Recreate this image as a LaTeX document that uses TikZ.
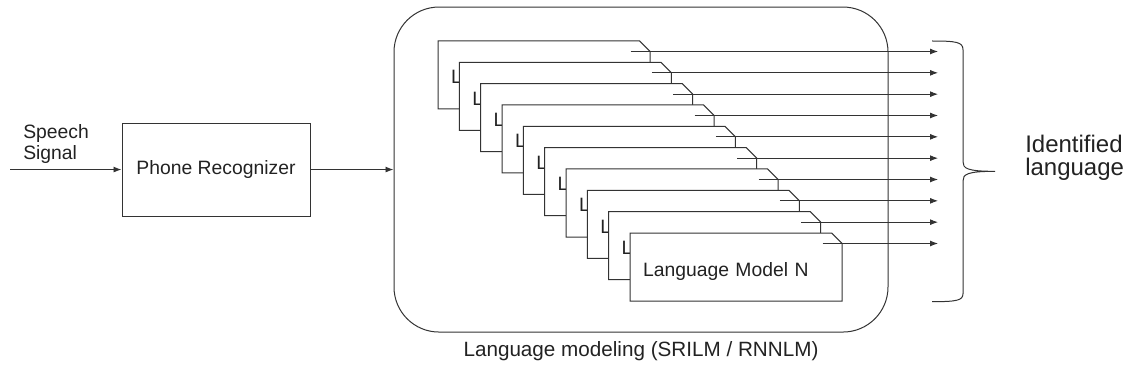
\documentclass[tikz,border=0pt]{standalone}
\usepackage{fontspec}
\setmainfont{Liberation Sans}
\usetikzlibrary{positioning,calc,arrows.meta,shapes.misc}
\definecolor{linegray}{RGB}{51,51,51}
\definecolor{textgray}{RGB}{34,34,34}
\tikzset{
  arrow/.style={-{Latex[length=6pt,width=4.5pt]}, draw=linegray, line width=0.7pt},
  box/.style={rectangle, draw=linegray, line width=0.75pt, text=textgray, font=\fontsize{14.5}{17}\selectfont},
  card/.style={chamfered rectangle, chamfered rectangle corners=north east,
    chamfered rectangle xsep=3.9pt, chamfered rectangle ysep=3.9pt,
    draw=linegray, fill=white, line width=0.75pt, text=textgray,
    minimum width=159pt, minimum height=51pt, text width=139.5pt, align=left,
    inner xsep=5.85pt, inner ysep=0pt, text height=13.5pt, text depth=0pt,
    font=\fontsize{14.5}{17}\selectfont},
  caption/.style={inner sep=0pt, text=textgray}
}
\begin{document}
\begin{tikzpicture}
\useasboundingbox (0,0) rectangle (849pt,284.25pt);

% input and phone recognizer
\node[caption, anchor=west, align=left, font=\fontsize{14.5}{15.75}\selectfont] (speech) at (17.25pt,175.9pt) {Speech\\Signal};
\coordinate (sig) at (7.5pt,157.1pt);
\node[box, minimum width=141pt, minimum height=69.75pt] (pr) at (162pt,157.1pt) {Phone Recognizer};

% language modeling block
\node[draw=linegray, line width=0.75pt, rounded corners=33.75pt, minimum width=370.5pt, minimum height=243.75pt] (lm) at (480.75pt,157.1pt) {};
\node[caption, below=6.5pt of lm, font=\fontsize{15.5}{18}\selectfont] (lmcap) {Language modeling (SRILM / RNNLM)};

\draw[arrow] (sig) -- (pr.west);
\draw[arrow] (pr.east) -- (lm.west);

% stacked language models
\node[card] (c1) at (408pt,228pt) {L};
\node[card] (c2) at ([shift={(16pt,-16pt)}]c1) {L};
\node[card] (c3) at ([shift={(16pt,-16pt)}]c2) {L};
\node[card] (c4) at ([shift={(16pt,-16pt)}]c3) {L};
\node[card] (c5) at ([shift={(16pt,-16pt)}]c4) {L};
\node[card] (c6) at ([shift={(16pt,-16pt)}]c5) {L};
\node[card] (c7) at ([shift={(16pt,-16pt)}]c6) {L};
\node[card] (c8) at ([shift={(16pt,-16pt)}]c7) {L};
\node[card] (c9) at ([shift={(16pt,-16pt)}]c8) {L};
\node[card] (c10) at ([shift={(16pt,-16pt)}]c9) {Language Model N};

% scores
\coordinate (out) at (703.5pt,0pt);
\foreach \i in {1,...,10} {
  \coordinate (s\i) at ($(c\i.north -| c\i.east)+(-15pt,-8.25pt)$);
  \draw[arrow] (s\i) -- (s\i -| out);
}

% brace and decision
\draw[linegray, line width=0.75pt] (699pt,253.5pt) .. controls (717pt,253.5pt) and (722.25pt,252.75pt) .. (722.25pt,247pt)
  -- (722.25pt,163pt) .. controls (722.25pt,158pt) and (725pt,155.75pt) .. (746.25pt,155.75pt)
  .. controls (725pt,155.75pt) and (722.25pt,153.5pt) .. (722.25pt,148.5pt)
  -- (722.25pt,64pt) .. controls (722.25pt,58.75pt) and (717pt,58pt) .. (699pt,58pt);
\node[caption, anchor=west, align=left, font=\fontsize{18}{17.25}\selectfont] (idl) at (768.75pt,166pt) {Identified\\language};
\end{tikzpicture}
\end{document}
